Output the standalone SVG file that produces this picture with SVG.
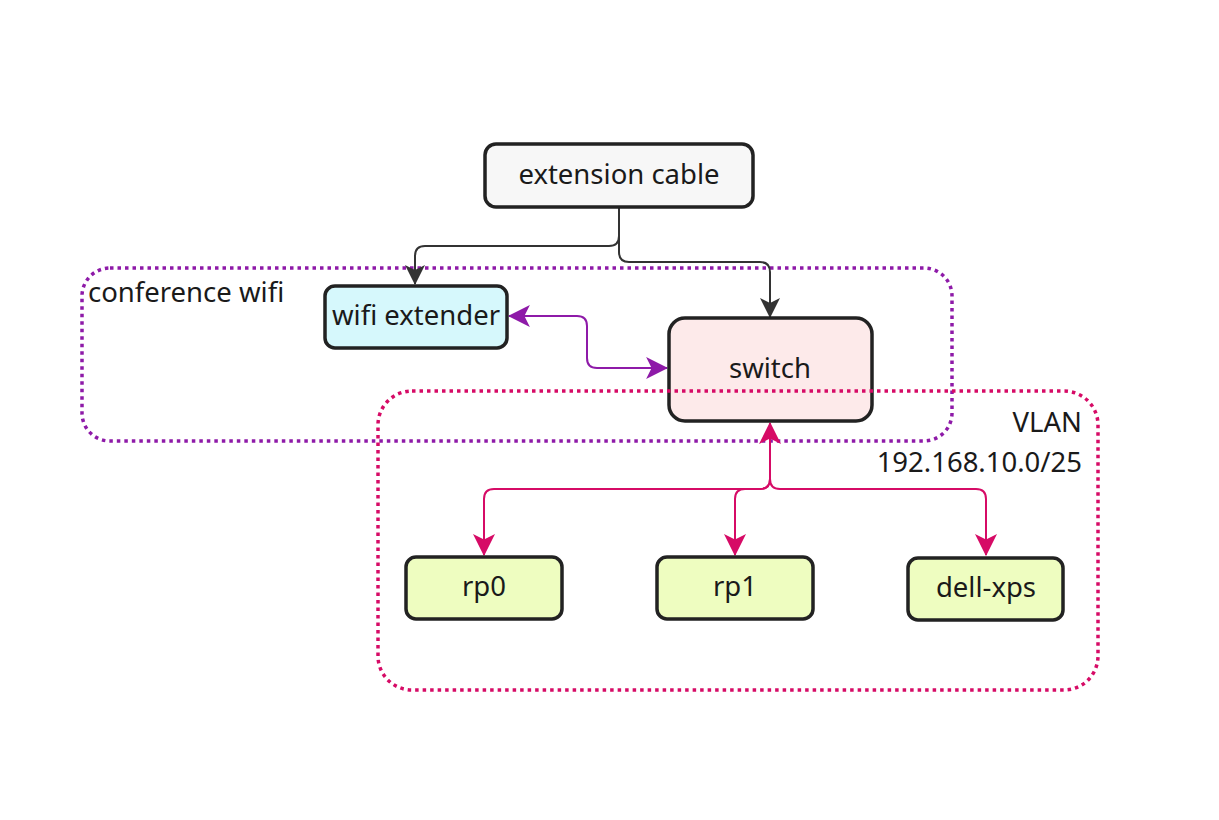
<svg xmlns="http://www.w3.org/2000/svg" width="1219" height="820" viewBox="0 0 1219 820">
<style>
  text { font-family: "Noto Sans", "Open Sans", sans-serif; font-size: 27.5px; fill: #1a1a1a; }
  .node rect { stroke: #222; stroke-width: 3.5; }
  .c { text-anchor: middle; dominant-baseline: central; }
  .cluster { fill: none; stroke-width: 3.5; stroke-dasharray: 3.5 4; }
  .e { fill: none; stroke-width: 2; }
  .blk { stroke: #333; }
  .pur { stroke: #8e1aa8; }
  .red { stroke: #d60b66; }
</style>
<defs>
  <marker id="ab" viewBox="0 0 20 20" refX="19" refY="10" markerWidth="20" markerHeight="20" markerUnits="userSpaceOnUse" orient="auto">
    <path d="M0,0 L20,10 L0,20 L5,10 z" fill="#333"/>
  </marker>
  <marker id="ap" viewBox="0 0 20 20" refX="19" refY="10" markerWidth="22" markerHeight="22" markerUnits="userSpaceOnUse" orient="auto-start-reverse">
    <path d="M0,0 L20,10 L0,20 L5,10 z" fill="#8e1aa8"/>
  </marker>
  <marker id="ar" viewBox="0 0 20 20" refX="19" refY="10" markerWidth="22" markerHeight="22" markerUnits="userSpaceOnUse" orient="auto-start-reverse">
    <path d="M0,0 L20,10 L0,20 L5,10 z" fill="#d60b66"/>
  </marker>
</defs>
<rect width="1219" height="820" fill="#ffffff"/>

<g id="cluster-wifi">
  <rect class="cluster" x="82" y="268" width="870" height="173" rx="28" stroke="#8e1aa8"/>
  <text x="88" y="302">conference wifi</text>
</g>

<g id="connectors">
  <path class="e blk" d="M619,208 L619,236 Q619,246 609,246 L425,246 Q415,246 415,256 L415,284" marker-end="url(#ab)"/>
  <path class="e blk" d="M619,208 L619,252 Q619,262 629,262 L760,262 Q770,262 770,272 L770,317" marker-end="url(#ab)"/>
  <path class="e pur" d="M509,316 L577,316 Q587,316 587,326 L587,358 Q587,368 597,368 L667,368" marker-start="url(#ap)" marker-end="url(#ap)"/>
  <path class="e red" d="M770,423 L770,479 Q770,489 760,489 L494,489 Q484,489 484,499 L484,555" marker-start="url(#ar)" marker-end="url(#ar)"/>
  <path class="e red" d="M770,479 Q770,489 760,489 L745,489 Q735,489 735,499 L735,555" marker-end="url(#ar)"/>
  <path class="e red" d="M770,479 Q770,489 780,489 L976,489 Q986,489 986,499 L986,555" marker-end="url(#ar)"/>
</g>

<g id="node-extension" class="node">
  <rect x="485" y="144" width="268" height="63" rx="11" fill="#f7f7f7"/>
  <text class="c" x="619" y="173">extension cable</text>
</g>
<g id="node-wifi-extender" class="node">
  <rect x="325" y="286" width="182" height="62" rx="10" fill="#d6f8fc"/>
  <text class="c" x="416" y="314">wifi extender</text>
</g>
<g id="node-switch" class="node">
  <rect x="669" y="318" width="203" height="103" rx="16" fill="#fdeaea"/>
  <text class="c" x="770" y="367">switch</text>
</g>
<g id="node-rp0" class="node">
  <rect x="406" y="557" width="156" height="62" rx="10" fill="#eefdc0"/>
  <text class="c" x="484" y="585">rp0</text>
</g>
<g id="node-rp1" class="node">
  <rect x="657" y="557" width="156" height="62" rx="10" fill="#eefdc0"/>
  <text class="c" x="735" y="585">rp1</text>
</g>
<g id="node-dell-xps" class="node">
  <rect x="908" y="558" width="155" height="62" rx="10" fill="#eefdc0"/>
  <text class="c" x="986" y="586">dell-xps</text>
</g>

<g id="cluster-vlan">
  <rect class="cluster" x="378" y="391" width="720" height="299" rx="34" stroke="#d60b66"/>
  <text x="1082" y="432" text-anchor="end">VLAN</text>
  <text x="1082" y="472" text-anchor="end">192.168.10.0/25</text>
</g>
</svg>
